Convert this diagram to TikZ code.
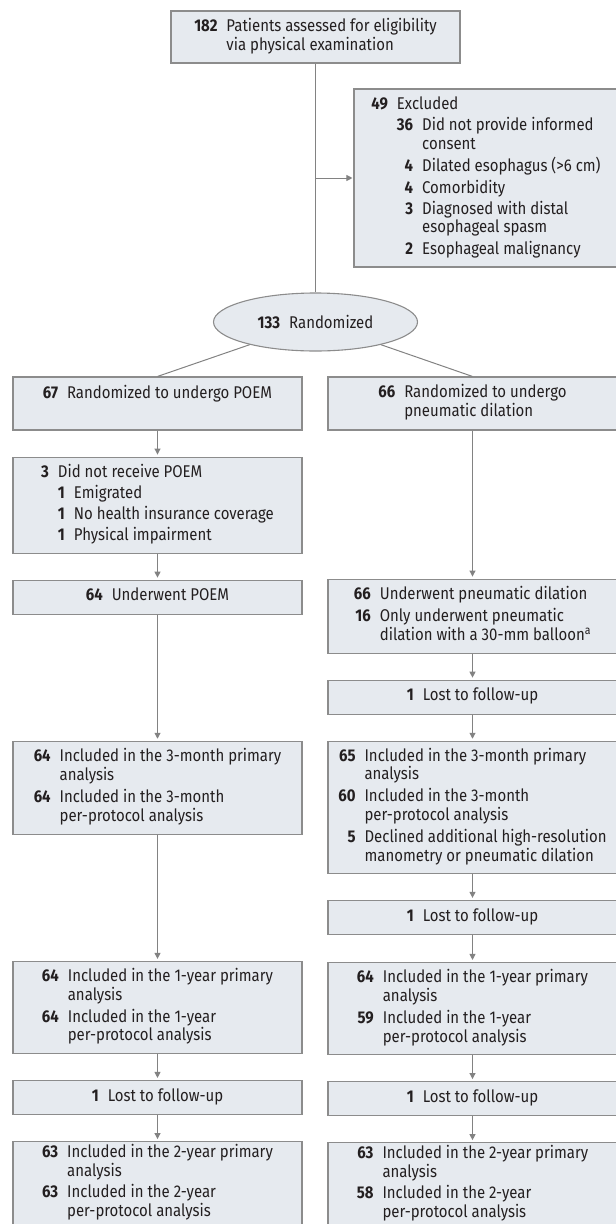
\documentclass[tikz,border=0pt]{standalone}
\usepackage{fontspec}
\setmainfont{Fira Sans}[FakeStretch=0.88]
\usepackage{tikz}
\usetikzlibrary{arrows.meta,positioning,shapes.geometric}
\definecolor{jamaFill}{HTML}{E6EAEF}
\definecolor{jamaEdge}{HTML}{8C8C8C}
\definecolor{jamaLine}{HTML}{828282}
\definecolor{jamaText}{HTML}{231F20}
% number column + text column, with an optional sub-list column
\newenvironment{counts}{\begin{tabular}{@{}r@{\hspace{9pt}}l@{}}}{\end{tabular}}
\newenvironment{subcounts}{\begin{tabular}{@{}r@{\hspace{9pt}}r@{\hspace{9pt}}l@{}}}{\end{tabular}}
\newcommand{\n}[1]{\textbf{#1}}

\begin{document}
\begin{tikzpicture}[
  x=1pt, y=-1pt,
  node distance=26pt,
  box/.style={rectangle,draw=jamaEdge,fill=jamaFill,line width=1.1pt,inner sep=0pt,minimum width=289pt,text=jamaText,font=\fontsize{17}{18.5}\selectfont},
  oval/.style={ellipse,draw=jamaEdge,fill=jamaFill,line width=1.1pt,inner sep=0pt,minimum width=204pt,minimum height=58pt,text=jamaText,font=\fontsize{17}{18.5}\selectfont},
  link/.style={draw=jamaLine,line width=1pt},
  arrow/.style={-{Triangle[length=6pt,width=6pt]},draw=jamaLine,fill=jamaLine,line width=1pt,shorten >=2pt}
]
\useasboundingbox (0,0) rectangle (616,1224);
\clip (0,0) rectangle (616,1224);

% enrollment
\node[box,minimum height=52pt] (screen) at (315.5,37) {\begin{counts}\n{182} & Patients assessed for eligibility\\ & via physical examination\end{counts}};
\node[box,minimum width=264pt,minimum height=178pt] (excluded) at (486,178) {\begin{subcounts}
\n{49} & \multicolumn{2}{@{}l@{}}{Excluded}\\[3pt]
 & \n{36} & Did not provide informed\\
 & & consent\\[2.5pt]
 & \n{4} & Dilated esophagus (>6 cm)\\[2.5pt]
 & \n{4} & Comorbidity\\[2.5pt]
 & \n{3} & Diagnosed with distal\\
 & & esophageal spasm\\[2.5pt]
 & \n{2} & Esophageal malignancy
\end{subcounts}\hspace{14pt}};
\node[oval] (random) at (315.5,322) {\n{133}\hspace{9pt}Randomized};

% allocation
\node[box,minimum height=53pt] (poemAlloc) at (157.5,403.5) {\begin{counts}\n{67} & Randomized to undergo POEM\\ & \end{counts}};
\node[box,minimum height=53pt] (pdAlloc) at (472.5,403.5) {\begin{counts}\n{66} & Randomized to undergo\\ & pneumatic dilation\end{counts}};

% POEM arm
\node[box,minimum height=96pt,below=of poemAlloc] (poemNot) {\begin{subcounts}
\n{3} & \multicolumn{2}{@{}l@{}}{Did not receive POEM}\\[2pt]
 & \n{1} & Emigrated\\[2pt]
 & \n{1} & No health insurance coverage\\[2pt]
 & \n{1} & Physical impairment
\end{subcounts}};
\node[box,minimum height=34pt,below=of poemNot] (poemDone) {\begin{counts}\n{64} & Underwent POEM\end{counts}};
\node[box,minimum height=93pt,below=126pt of poemDone] (poem3m) {\begin{counts}
\n{64} & Included in the 3-month primary\\ & analysis\\[3pt]
\n{64} & Included in the 3-month\\ & per-protocol analysis
\end{counts}};
\node[box,minimum height=92pt,below=126pt of poem3m] (poem1y) {\begin{counts}
\n{64} & Included in the 1-year primary\\ & analysis\\[3pt]
\n{64} & Included in the 1-year\\ & per-protocol analysis
\end{counts}};
\node[box,minimum height=34pt,below=of poem1y] (poemLost) {\begin{counts}\n{1} & Lost to follow-up\end{counts}};
\node[box,minimum height=93pt,below=of poemLost] (poem2y) {\begin{counts}
\n{63} & Included in the 2-year primary\\ & analysis\\[3pt]
\n{63} & Included in the 2-year\\ & per-protocol analysis\\[10pt]
\end{counts}};

% pneumatic dilation arm
\node[box,minimum height=74pt,below=148pt of pdAlloc] (pdDone) {\begin{counts}
\n{66} & Underwent pneumatic dilation\\[3pt]
\n{16} & Only underwent pneumatic\\ & dilation with a 30-mm balloon\textsuperscript{a}
\end{counts}};
\node[box,minimum height=34pt,below=of pdDone] (pdLost1) {\begin{counts}\n{1} & Lost to follow-up\end{counts}};
\node[box,minimum height=132pt,below=of pdLost1] (pd3m) {\begin{counts}
\n{65} & Included in the 3-month primary\\ & analysis\\[3pt]
\n{60} & Included in the 3-month\\ & per-protocol analysis\\[3pt]
\n{5} & Declined additional high-resolution\\ & manometry or pneumatic dilation
\end{counts}};
\node[box,minimum height=34pt,below=of pd3m] (pdLost2) {\begin{counts}\n{1} & Lost to follow-up\end{counts}};
\node[box,minimum height=92pt,below=27pt of pdLost2] (pd1y) {\begin{counts}
\n{64} & Included in the 1-year primary\\ & analysis\\[3pt]
\n{59} & Included in the 1-year\\ & per-protocol analysis
\end{counts}};
\node[box,minimum height=34pt,below=of pd1y] (pdLost3) {\begin{counts}\n{1} & Lost to follow-up\end{counts}};
\node[box,minimum height=93pt,below=of pdLost3] (pd2y) {\begin{counts}
\n{63} & Included in the 2-year primary\\ & analysis\\[3pt]
\n{58} & Included in the 2-year\\ & per-protocol analysis\\[10pt]
\end{counts}};

% connectors
\coordinate (split) at (screen.south |- excluded.west);
\draw[link] (screen) -- (random);
\draw[arrow,shorten >=1pt] (split) -- (excluded);
\draw[link] (random) -- (poemAlloc.north);
\draw[link] (random) -- (pdAlloc.north);
\draw[arrow] (poemAlloc) -- (poemNot);
\draw[arrow] (poemNot) -- (poemDone);
\draw[arrow] (poemDone) -- (poem3m);
\draw[arrow] (poem3m) -- (poem1y);
\draw[arrow] (poem1y) -- (poemLost);
\draw[arrow] (poemLost) -- (poem2y);
\draw[arrow] (pdAlloc) -- (pdDone);
\draw[arrow] (pdDone) -- (pdLost1);
\draw[arrow] (pdLost1) -- (pd3m);
\draw[arrow] (pd3m) -- (pdLost2);
\draw[arrow] (pdLost2) -- (pd1y);
\draw[arrow] (pd1y) -- (pdLost3);
\draw[arrow] (pdLost3) -- (pd2y);
\end{tikzpicture}
\end{document}
